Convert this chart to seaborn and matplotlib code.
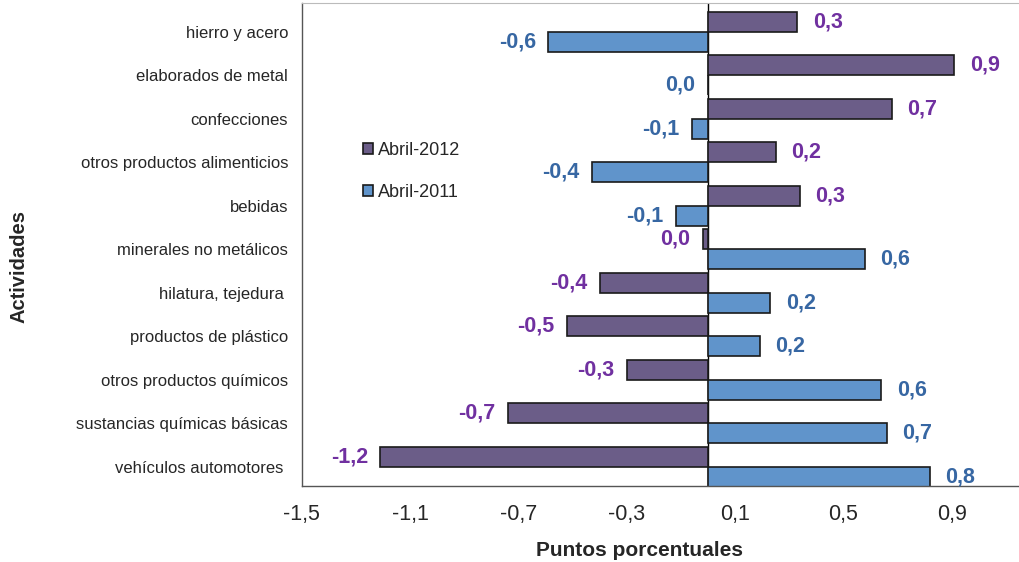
import pandas as pd
import matplotlib.pyplot as plt
import seaborn as sns

# data
actividades = ["hierro y acero", "elaborados de metal", "confecciones",
               "otros productos alimenticios", "bebidas", "minerales no metálicos",
               "hilatura, tejedura ", "productos de plástico", "otros productos químicos",
               "sustancias químicas básicas", "vehículos automotores "]
abril_2012 = [0.33, 0.91, 0.68, 0.25, 0.34, -0.02, -0.40, -0.52, -0.30, -0.74, -1.21]
abril_2011 = [-0.59, 0.0, -0.06, -0.43, -0.12, 0.58, 0.23, 0.19, 0.64, 0.66, 0.82]
series = ["Abril-2012", "Abril-2011"]
x_ticks = [-1.5, -1.1, -0.7, -0.3, 0.1, 0.5, 0.9]

bar_colors = {"Abril-2012": "#68568F", "Abril-2011": "#4E93DD"}
label_colors = {"Abril-2012": "#7030A0", "Abril-2011": "#3767A3"}


def fmt(v):
    s = f"{v:.1f}"
    if s == "-0.0":
        s = "0.0"
    return s.replace(".", ",")


df = pd.concat([
    pd.DataFrame({"Actividad": actividades, "Serie": series[0], "Valor": abril_2012}),
    pd.DataFrame({"Actividad": actividades, "Serie": series[1], "Valor": abril_2011}),
])

sns.set_style("white")
plt.rcParams["font.family"] = ["Liberation Sans", "DejaVu Sans"]

fig = plt.figure(figsize=(10.2, 5.62), dpi=100)
ax = fig.add_axes([0.296, 0.135, 0.704, 0.86])

sns.barplot(data=df, x="Valor", y="Actividad", hue="Serie", hue_order=series,
            order=actividades, orient="h", palette=bar_colors, width=0.92,
            edgecolor="#1a1a1a", linewidth=1.2, ax=ax)

# value labels, placed from each bar's geometry
for cont, serie in zip(ax.containers, series):
    for patch in cont:
        w = patch.get_width()
        yc = patch.get_y() + patch.get_height() / 2
        end = patch.get_x() + w
        if w > 0:
            ax.annotate(fmt(w), (end, yc), xytext=(11, 0), textcoords="offset points",
                        ha="left", va="center", fontsize=15.5, fontweight="bold",
                        color=label_colors[serie])
        else:
            ax.annotate(fmt(w), (end, yc), xytext=(-9, 0), textcoords="offset points",
                        ha="right", va="center", fontsize=15.5, fontweight="bold",
                        color=label_colors[serie])

ax.axvline(0, color="black", lw=1, zorder=0.5)
ax.set_xlim(-1.5, 1.152)
ax.set_ylim(10.44, -0.66)
ax.set_xticks(x_ticks)
ax.set_xticklabels([fmt(t) for t in x_ticks], fontsize=15.5)
ax.tick_params(axis="x", length=0, pad=13)
ax.tick_params(axis="y", length=0, pad=10, labelsize=12)

ax.set_xlabel("")
ax.set_ylabel("")
fig.text(0.627, 0.004, "Puntos porcentuales", fontsize=15, fontweight="bold",
         ha="center", va="bottom")
fig.text(0.019, 0.525, "Actividades", rotation=90, fontsize=14.5, fontweight="bold",
         ha="center", va="center")

for side in ["left", "bottom"]:
    ax.spines[side].set_color("#555555")
    ax.spines[side].set_linewidth(1)
ax.spines["top"].set_color("#bbbbbb")
ax.spines["right"].set_visible(False)

ax.legend(loc="upper left", bbox_to_anchor=(0.062, 0.745), frameon=False,
          fontsize=13, handlelength=0.55, handleheight=0.55, handletextpad=0.3,
          labelspacing=1.35)

fig.savefig("out.png", dpi=100)
